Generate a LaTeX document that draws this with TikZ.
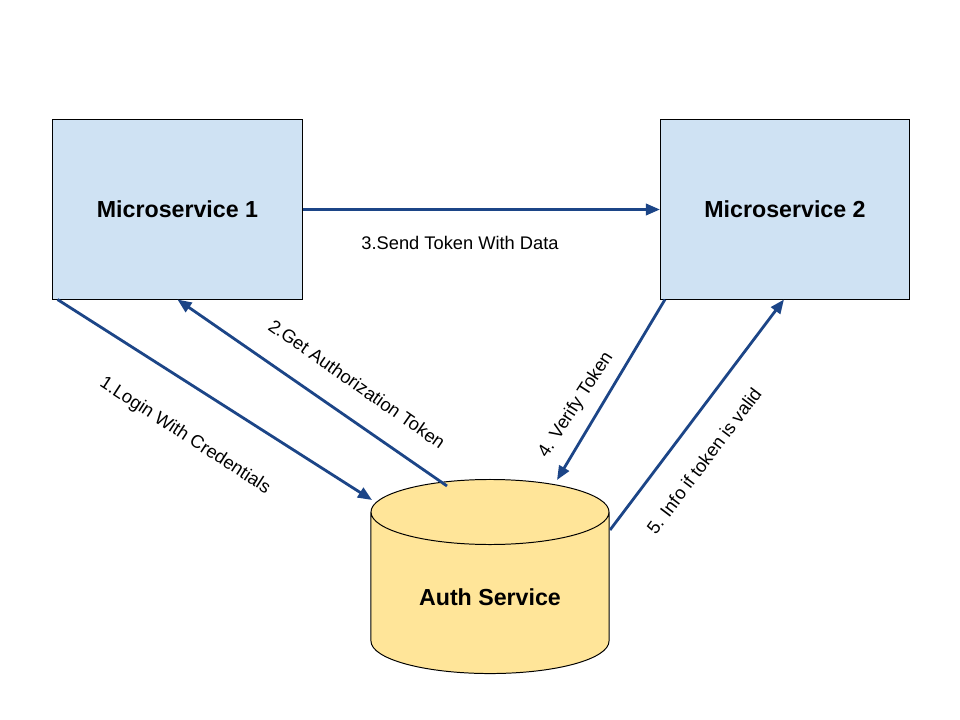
\documentclass[tikz,border=0pt]{standalone}
\usepackage{fontspec}
\setmainfont{Liberation Sans}
\usetikzlibrary{positioning,shapes.geometric,arrows.meta,calc}
\definecolor{BoxBlue}{RGB}{207,226,243}
\definecolor{AuthYellow}{RGB}{255,229,153}
\definecolor{FlowBlue}{RGB}{28,69,135}

\begin{document}
\begin{tikzpicture}[
  x=0.025cm, y=-0.025cm,
  every node/.style={font=\fontsize{13}{15}\selectfont},
  svcbox/.style={draw=black, fill=BoxBlue, line width=0.7pt, minimum width=6.225cm, minimum height=4.475cm, font=\fontsize{16.5}{20}\selectfont\bfseries},
  dbcyl/.style={cylinder, shape border rotate=90, aspect=0.43, draw=black, fill=AuthYellow, line width=0.7pt, minimum width=5.95cm, minimum height=4.85cm, font=\fontsize{16.5}{20}\selectfont\bfseries},
  arrow/.style={-{Triangle[length=10pt,width=8pt]}, line width=2pt, FlowBlue},
  lbl/.style={inner sep=0pt}
]
\useasboundingbox (0,0) rectangle (960,720);

\node[svcbox] (ms1) at (177.5,209.5) {Microservice 1};
\node[svcbox] (ms2) at (785,209.5) {Microservice 2};
\node[dbcyl, anchor=top] (auth) at (490,479) {Auth Service};

% flows
\draw[arrow] ($(ms1.south west)+(5,0)$) -- ($(auth.top)+(-118,21)$);
\draw[arrow] ($(auth.top)+(-43,7)$) -- ($(ms1.south west)+(125,0)$);
\draw[arrow] (ms1.east) -- (ms2.west);
\draw[arrow] ($(ms2.south west)+(5,0)$) -- ($(auth.top)+(67,1)$);
\draw[arrow] ($(auth.top)+(120,51)$) -- ($(ms2.south west)+(124,0)$);

\node[lbl, rotate=-33] (l1) at (185,436) {1.Login With Credentials};
\node[lbl, rotate=-35] (l2) at (357,384) {2.Get Authorization Token};
\node[lbl] (l3) at (460,243) {3.Send Token With Data};
\node[lbl, rotate=57] (l4) at (576,405) {4. Verify Token};
\node[lbl, rotate=53] (l5) at (704,461) {5. Info if token is valid};
\end{tikzpicture}
\end{document}
